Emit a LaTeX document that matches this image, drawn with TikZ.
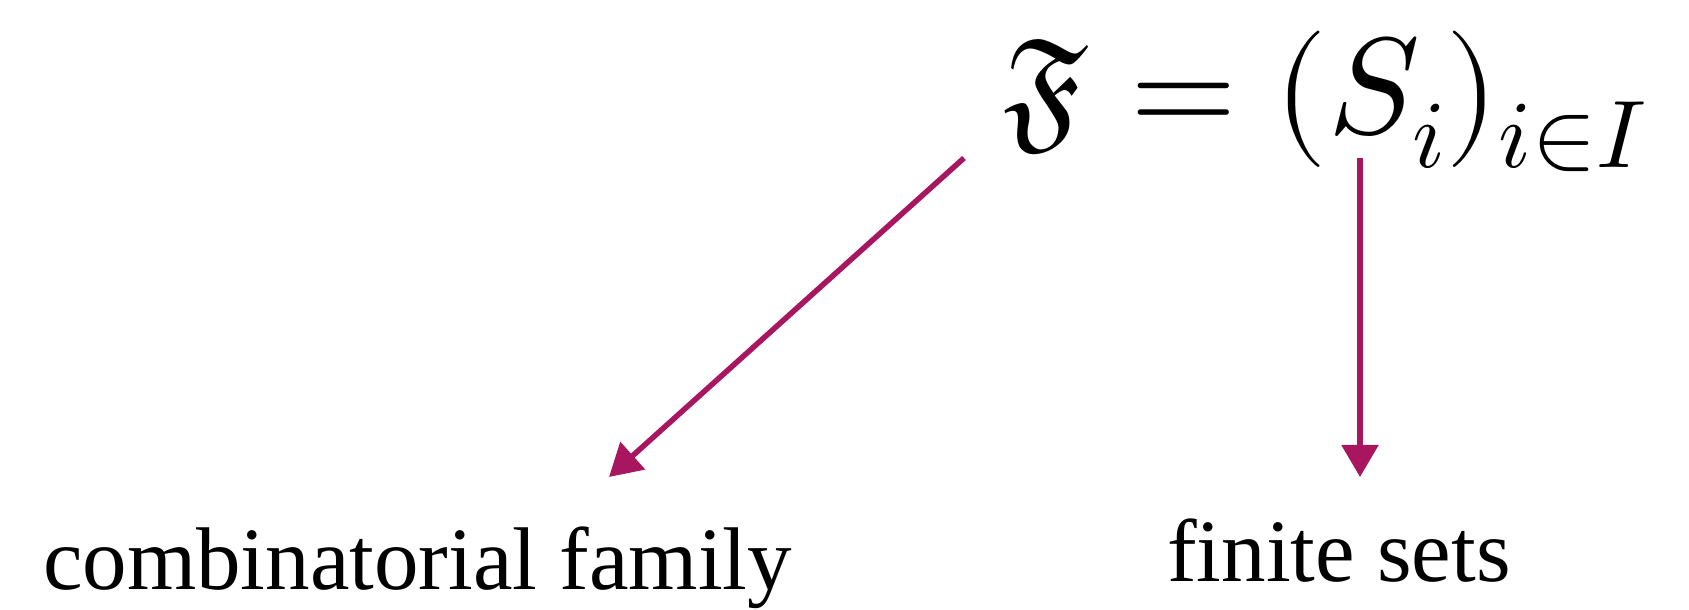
\documentclass[tikz,border=0pt]{standalone}
\usepackage{fontspec}
\usepackage{unicode-math}
\setmainfont{Liberation Serif}
\setmathfont{Latin Modern Math}
\usetikzlibrary{arrows.meta}
\definecolor{arrowc}{RGB}{168,22,96}
\begin{document}
\begin{tikzpicture}[x=1pt,y=1pt,
  lbl/.style={inner sep=0pt,anchor=base west,font=\fontsize{89}{100}\selectfont},
  conn/.style={draw=arrowc,line width=5.5pt,-{Triangle[length=32pt,width=36pt]}}]
\useasboundingbox (0,0) rectangle (1689,610);
\node[inner sep=0pt,anchor=base west,font=\fontsize{137}{160}\selectfont] (f) at (1003,476) {$\mathfrak{F}=(S_i)_{i\in I}$};
\node[lbl] (cf) at (43,20) {combinatorial family};
\node[lbl] (fs) at (1167,28) {finite sets};
\coordinate (a1s) at (964,452);
\coordinate (a1e) at (609,133);
\coordinate (a2s) at (1360,452);
\coordinate (a2e) at (1360,133);
\draw[conn] (a1s) -- (a1e);
\draw[conn] (a2s) -- (a2e);
\end{tikzpicture}
\end{document}
